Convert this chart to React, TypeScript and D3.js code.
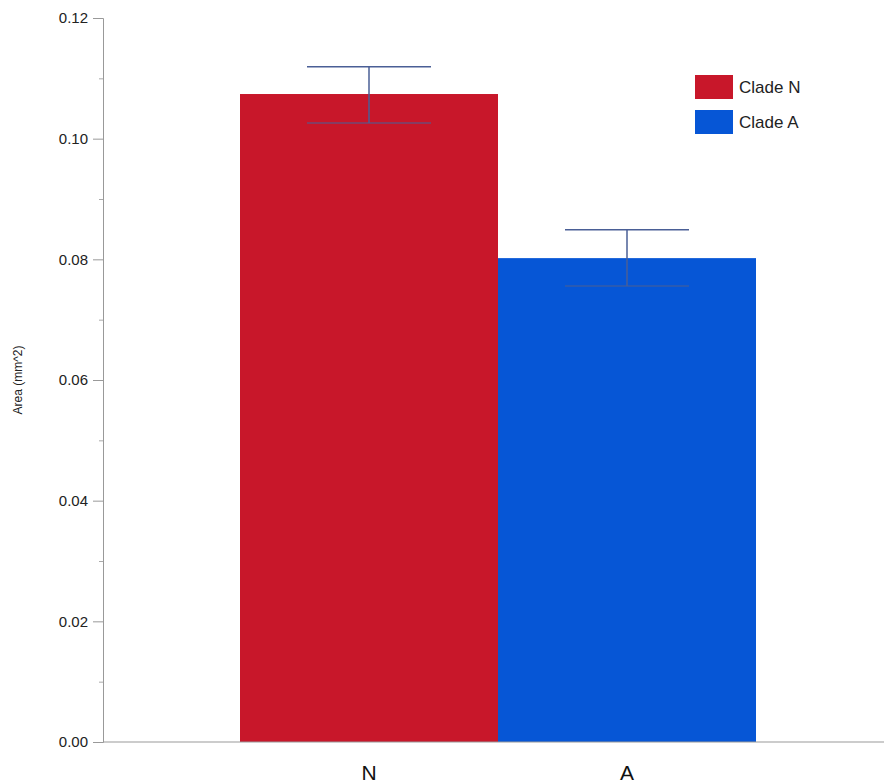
import React, { useEffect, useRef } from "react";
import * as d3 from "d3";

const categories = ["N", "A"];
const legendLabels = ["Clade N", "Clade A"];
const means = [0.1074, 0.0802];
const errUpper = [0.1119, 0.0849];
const errLower = [0.1026, 0.0756];
const yTicks = [0, 0.02, 0.04, 0.06, 0.08, 0.1, 0.12];
const yMinorTicks = [0.01, 0.03, 0.05, 0.07, 0.09, 0.11];
const colors = ["#C8172A", "#0656D6"];

const width = 884;
const height = 783;

export default function App() {
  const ref = useRef<SVGSVGElement>(null);

  useEffect(() => {
    const svg = d3.select(ref.current);
    svg.selectAll("*").remove();

    const axisLeft = 103;
    const axisRight = 884;
    const top = 18;
    const bottom = 742;
    const font = "'Liberation Sans', Arial, Helvetica, sans-serif";

    const y = d3.scaleLinear().domain([0, 0.12]).range([bottom, top]);
    const x = d3.scaleBand().domain(categories).range([240, 756]).padding(0);

    // bars
    svg.append("g")
      .selectAll("rect")
      .data(categories)
      .enter()
      .append("rect")
      .attr("x", d => x(d)!)
      .attr("y", (d, i) => y(means[i]))
      .attr("width", x.bandwidth())
      .attr("height", (d, i) => bottom - y(means[i]))
      .attr("fill", (d, i) => colors[i]);

    // error bars
    const err = svg.append("g").attr("stroke", "#4a5f96").attr("stroke-width", 1.5);
    categories.forEach((c, i) => {
      const cx = x(c)! + x.bandwidth() / 2;
      const cap = 62;
      err.append("line").attr("x1", cx).attr("x2", cx).attr("y1", y(errUpper[i])).attr("y2", y(errLower[i]));
      err.append("line").attr("x1", cx - cap).attr("x2", cx + cap).attr("y1", y(errUpper[i])).attr("y2", y(errUpper[i]));
      err.append("line").attr("x1", cx - cap).attr("x2", cx + cap).attr("y1", y(errLower[i])).attr("y2", y(errLower[i]))
        .attr("stroke-opacity", 0.7);
    });

    // y axis
    const yAxis = svg.append("g")
      .attr("transform", `translate(${axisLeft},0)`)
      .call(d3.axisLeft(y).tickValues(yTicks).tickFormat(d3.format(".2f")).tickSize(10).tickPadding(5));
    yAxis.select(".domain").attr("stroke", "#999");
    yAxis.selectAll(".tick line").attr("stroke", "#999");
    yAxis.selectAll(".tick text")
      .attr("font-family", font)
      .attr("font-size", 15)
      .attr("fill", "#222");

    svg.append("g")
      .attr("transform", `translate(${axisLeft},0)`)
      .call(d3.axisLeft(y).tickValues(yMinorTicks).tickFormat(() => "").tickSize(4))
      .call(g => g.select(".domain").remove())
      .selectAll(".tick line").attr("stroke", "#aaa");

    // x axis
    svg.append("line")
      .attr("x1", axisLeft).attr("x2", axisRight)
      .attr("y1", bottom).attr("y2", bottom)
      .attr("stroke", "#999");

    svg.append("g")
      .selectAll("text")
      .data(categories)
      .enter()
      .append("text")
      .attr("x", d => x(d)! + x.bandwidth() / 2)
      .attr("y", 780)
      .attr("text-anchor", "middle")
      .attr("font-family", font)
      .attr("font-size", 21)
      .attr("fill", "#111")
      .text(d => d);

    // y label
    svg.append("text")
      .attr("transform", "rotate(-90)")
      .attr("x", -380)
      .attr("y", 22)
      .attr("text-anchor", "middle")
      .attr("font-family", font)
      .attr("font-size", 12)
      .attr("fill", "#222")
      .text("Area (mm^2)");

    // legend
    const legend = svg.append("g").attr("transform", "translate(695,75)");
    legendLabels.forEach((l, i) => {
      legend.append("rect")
        .attr("x", 0).attr("y", i * 35)
        .attr("width", 38).attr("height", 24)
        .attr("fill", colors[i]);
      legend.append("text")
        .attr("x", 44).attr("y", i * 35 + 18)
        .attr("font-family", font)
        .attr("font-size", 17)
        .attr("fill", "#222")
        .text(l);
    });
  }, []);

  return (
    <svg
      ref={ref}
      width={width}
      height={height}
      style={{ position: "absolute", left: 0, top: 0, background: "#fff" }}
    />
  );
}
